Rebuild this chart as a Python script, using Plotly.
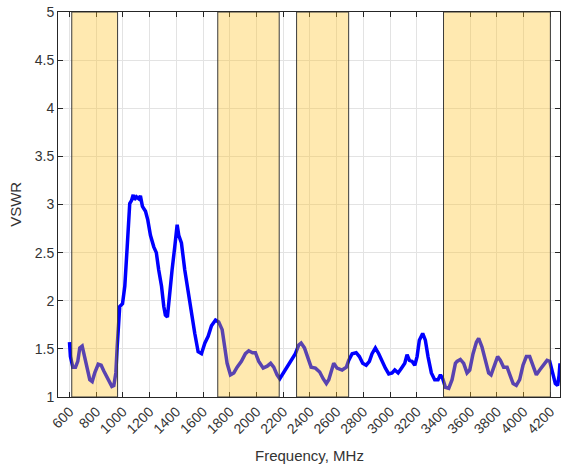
import plotly.graph_objects as go

freq_mhz = [600, 607, 625, 645, 662, 677, 695, 712, 732, 752, 770, 789, 815, 837, 857, 882, 899, 917, 932, 947,
            957, 969, 976, 997, 1014, 1032, 1044, 1051, 1064, 1077, 1086, 1101, 1119, 1131, 1146, 1169, 1186, 1206,
            1231, 1250, 1268, 1289, 1306, 1318, 1333, 1348, 1368, 1388, 1406, 1418, 1438, 1463, 1488, 1513, 1538,
            1563, 1588, 1613, 1638, 1663, 1693, 1717, 1743, 1762, 1780, 1805, 1830, 1855, 1887, 1917, 1942, 1970,
            1992, 2017, 2050, 2080, 2106, 2129, 2154, 2174, 2204, 2241, 2267, 2291, 2316, 2334, 2359, 2384, 2409,
            2441, 2473, 2499, 2523, 2541, 2559, 2578, 2603, 2641, 2673, 2690, 2716, 2746, 2770, 2795, 2821, 2845,
            2865, 2890, 2915, 2940, 2965, 2990, 3015, 3035, 3060, 3085, 3110, 3127, 3145, 3165, 3185, 3202, 3219,
            3244, 3264, 3284, 3309, 3334, 3359, 3377, 3394, 3414, 3439, 3464, 3476, 3489, 3501, 3526, 3551, 3576,
            3596, 3621, 3646, 3663, 3688, 3713, 3738, 3756, 3781, 3805, 3826, 3850, 3876, 3895, 3921, 3945, 3970,
            3995, 4020, 4045, 4070, 4095, 4120, 4145, 4175, 4195, 4213, 4237, 4254, 4265, 4272]
vswr = [1.57, 1.42, 1.31, 1.31, 1.37, 1.51, 1.53, 1.42, 1.28, 1.18, 1.16, 1.25, 1.34, 1.33, 1.27, 1.21, 1.16, 1.11,
        1.12, 1.25, 1.52, 1.80, 1.94, 1.97, 2.15, 2.56, 2.91, 3.01, 3.04, 3.10, 3.05, 3.08, 3.06, 3.09, 2.98, 2.93,
        2.84, 2.68, 2.56, 2.50, 2.32, 2.15, 1.94, 1.85, 1.83, 2.08, 2.32, 2.56, 2.79, 2.68, 2.60, 2.32, 2.08, 1.90,
        1.66, 1.47, 1.45, 1.56, 1.63, 1.74, 1.80, 1.78, 1.70, 1.52, 1.35, 1.23, 1.25, 1.31, 1.37, 1.45, 1.48, 1.46,
        1.46, 1.37, 1.30, 1.32, 1.35, 1.31, 1.23, 1.19, 1.26, 1.33, 1.39, 1.45, 1.54, 1.56, 1.51, 1.42, 1.31, 1.30,
        1.26, 1.19, 1.14, 1.18, 1.28, 1.35, 1.30, 1.28, 1.31, 1.38, 1.45, 1.46, 1.42, 1.35, 1.33, 1.37, 1.45, 1.51,
        1.45, 1.37, 1.30, 1.24, 1.25, 1.28, 1.25, 1.30, 1.35, 1.44, 1.38, 1.37, 1.33, 1.42, 1.59, 1.66, 1.59, 1.42,
        1.25, 1.18, 1.18, 1.23, 1.19, 1.10, 1.09, 1.18, 1.25, 1.35, 1.37, 1.39, 1.35, 1.25, 1.28, 1.45, 1.57, 1.61,
        1.52, 1.37, 1.25, 1.23, 1.33, 1.42, 1.38, 1.31, 1.31, 1.23, 1.14, 1.12, 1.18, 1.33, 1.42, 1.42, 1.33, 1.23,
        1.28, 1.33, 1.38, 1.37, 1.26, 1.14, 1.12, 1.22, 1.35]

band_start = [617, 1710, 2300, 3400]
band_end = [960, 2170, 2690, 4200]

x_ticks = list(range(600, 4201, 200))
y_ticks = [1, 1.5, 2, 2.5, 3, 3.5, 4, 4.5, 5]
x_range = [514, 4272]
y_range = [1, 5]

font_fam = "Liberation Sans, Arial, Helvetica, sans-serif"
axis_col = "#262626"
label_col = "#333333"

fig = go.Figure()
fig.add_trace(go.Scatter(x=freq_mhz, y=vswr, mode="lines",
                         line=dict(color="#0000FF", width=3.5), showlegend=False))

for s, e in zip(band_start, band_end):
    fig.add_shape(type="rect", x0=s, x1=e, y0=y_range[0], y1=y_range[1], xref="x", yref="y",
                  fillcolor="rgba(255,192,30,0.35)", line=dict(color="#3a3a3a", width=1), layer="above")

fig.add_annotation(text="VSWR", xref="paper", yref="paper", x=-0.085, y=0.5, xanchor="center",
                   yanchor="middle", textangle=-90, showarrow=False,
                   font=dict(size=15, color=label_col, family=font_fam))
fig.add_annotation(text="Frequency, MHz", xref="paper", yref="paper", x=0.5, y=-0.151, xanchor="center",
                   yanchor="middle", showarrow=False,
                   font=dict(size=15, color=label_col, family=font_fam))

fig.update_layout(
    width=561, height=471,
    margin=dict(l=58, r=1, t=12, b=74),
    paper_bgcolor="white", plot_bgcolor="white",
    font=dict(family=font_fam, size=14, color=label_col),
)
fig.update_xaxes(range=x_range, tickvals=x_ticks, ticktext=[str(t) for t in x_ticks], tickangle=-45,
                 automargin=False, ticklabeloverflow="allow",
                 showgrid=True, gridcolor="#e3e3e3", gridwidth=1, zeroline=False,
                 showline=True, linecolor=axis_col, linewidth=1, mirror="ticks",
                 ticks="inside", ticklen=5, tickcolor=axis_col,
                 tickfont=dict(size=14))
fig.update_yaxes(range=y_range, tickvals=y_ticks, ticktext=[("%g" % t) for t in y_ticks],
                 automargin=False, ticklabeloverflow="allow",
                 showgrid=True, gridcolor="#e3e3e3", gridwidth=1, zeroline=False,
                 showline=True, linecolor=axis_col, linewidth=1, mirror="ticks",
                 ticks="inside", ticklen=5, tickcolor=axis_col,
                 tickfont=dict(size=14))

fig.write_html("out.html", config={"displayModeBar": False},
               post_script="document.body.style.margin='0';document.body.style.overflow='hidden';")
